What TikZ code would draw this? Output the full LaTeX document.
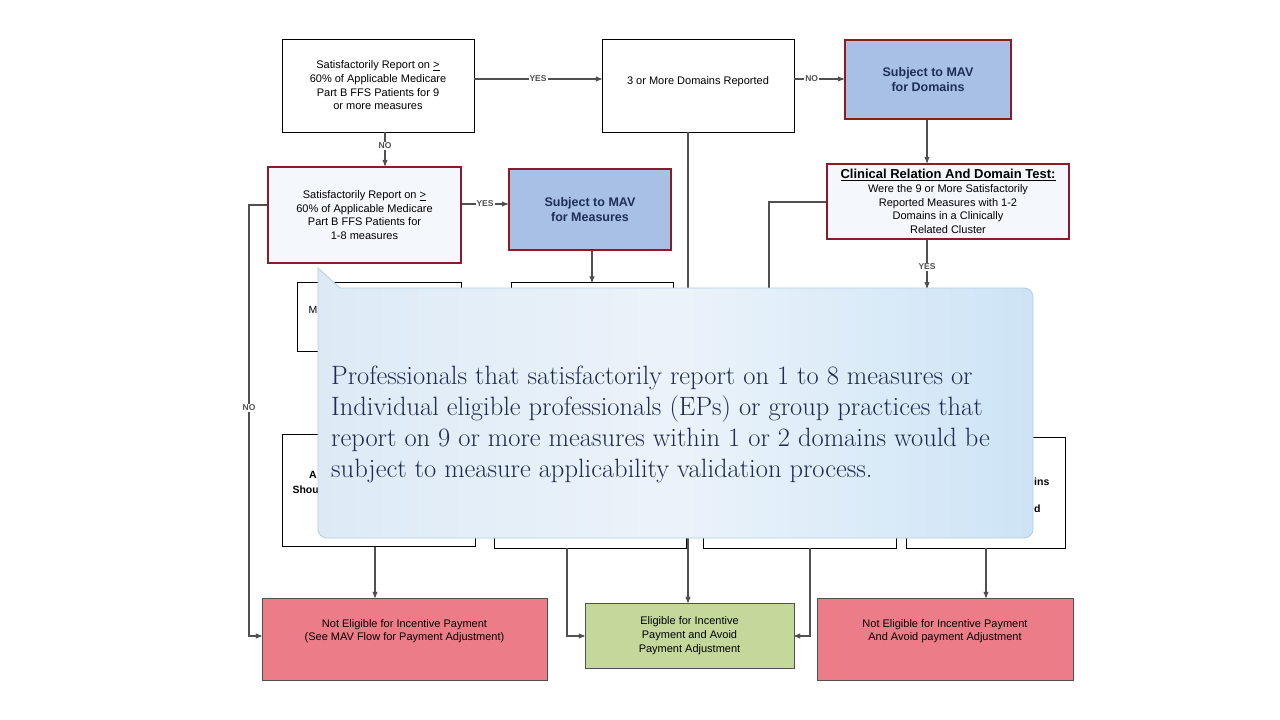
\documentclass[tikz,border=0pt]{standalone}
\usepackage{fontspec}
\setsansfont{Liberation Sans}
\usetikzlibrary{calc}
\usetikzlibrary{arrows}
\definecolor{boxred}{HTML}{8C1C24}
\definecolor{mavblue}{HTML}{A7C0E4}
\definecolor{paleblue}{HTML}{F4F8FC}
\definecolor{navy}{HTML}{1F2F55}
\definecolor{outpink}{HTML}{EC7D88}
\definecolor{outgreen}{HTML}{C4D89C}
\definecolor{linegray}{HTML}{505050}
\definecolor{calA}{HTML}{DDEAF6}
\definecolor{calM}{HTML}{EBF3FA}
\definecolor{calB}{HTML}{CDE4F6}
\definecolor{calline}{HTML}{B4CDE2}
\definecolor{caltext}{HTML}{1F2A50}
\tikzset{
  whitebox/.style={draw=black, fill=white, line width=.8pt, align=center, inner sep=0pt,
    font=\sffamily\fontsize{11}{13.7}\selectfont},
  redbox/.style={whitebox, draw=boxred, line width=2.6pt, fill=paleblue},
  mavbox/.style={redbox, fill=mavblue, text=navy, font=\sffamily\bfseries\fontsize{12.5}{15}\selectfont},
  outbox/.style={whitebox, draw=linegray, line width=.8pt},
  lbl/.style={fill=white, inner sep=1pt, text=linegray, font=\sffamily\bfseries\fontsize{8.5}{8.5}\selectfont},
  flow/.style={draw=linegray, line width=1.1pt},
  arr/.style={flow, -stealth'},
  frag/.style={inner sep=0pt, font=\sffamily\bfseries\fontsize{10.5}{10.5}\selectfont}
}
\begin{document}
\begin{tikzpicture}[x=1pt,y=-1pt]
\useasboundingbox[fill=white] (0,0) rectangle (1280,720);
% first and second tests
\node[whitebox, minimum width=192pt, minimum height=93pt] (sat9) at (378,85.5)
  {Satisfactorily Report on \underline{>}\\60\% of Applicable Medicare\\Part B FFS Patients for 9\\or more measures};
\node[whitebox, minimum width=192pt, minimum height=93pt] (dom3) at (698,85.5)
  {3 or More Domains Reported\\[-4pt]};
\node[mavbox, minimum width=166pt, minimum height=79pt] (mavdom) at (928,79.5) {Subject to MAV\\for Domains};
\node[redbox, minimum width=242pt, minimum height=75pt] (clin) at (948,201.5)
  {{\bfseries\fontsize{13}{13.5}\selectfont\underline{Clinical Relation And Domain Test:}}\\Were the 9 or More Satisfactorily\\Reported Measures with 1-2\\Domains in a Clinically\\Related Cluster};
\node[redbox, minimum width=193pt, minimum height=96pt] (sat18) at (364.5,215)
  {Satisfactorily Report on \underline{>}\\60\% of Applicable Medicare\\Part B FFS Patients for\\1-8 measures};
\node[mavbox, minimum width=162pt, minimum height=81pt] (mavmeas) at (590,209.5) {Subject to MAV\\for Measures};
% boxes under the note
\node[whitebox, minimum width=164pt, minimum height=69pt] (midl) at (379,317) {};
\node[frag, font=\sffamily\fontsize{10.5}{10.5}\selectfont] (fragm) at (313,310) {M};
\node[whitebox, minimum width=162pt, minimum height=69pt] (midm) at (592,317) {};
\node[whitebox, minimum width=193pt, minimum height=112pt] (lowa) at (378.5,490.5) {};
\node[frag] (fraga) at (313,475) {A};
\node[frag, anchor=east] (fragb) at (319,490) {Shou};
\node[whitebox, minimum width=192pt, minimum height=111pt] (lowb) at (590.5,492.5) {};
\node[whitebox, minimum width=193pt, minimum height=111pt] (lowc) at (799.5,492.5) {};
\node[whitebox, minimum width=159pt, minimum height=111pt] (lowd) at (985.5,492.5) {};
\node[frag, anchor=west] (fragc) at (1034,482) {ins};
\node[frag, anchor=west] (fragd) at (1034,509) {d};
% outcomes
\node[outbox, fill=outpink, minimum width=285pt, minimum height=82pt] (noinc) at (404.5,639)
  {Not Eligible for Incentive Payment\\(See MAV Flow for Payment Adjustment)\\[4pt]};
\node[outbox, fill=outgreen, minimum width=209pt, minimum height=65pt] (inc) at (689.5,635.5)
  {Eligible for Incentive\\Payment and Avoid\\Payment Adjustment};
\node[outbox, fill=outpink, minimum width=256pt, minimum height=82pt] (noadj) at (945,639)
  {Not Eligible for Incentive Payment\\And Avoid payment Adjustment\\[4pt]};
% connectors
\draw[arr] (sat9.east |- 0,79) -- (dom3.west |- 0,79) node[lbl, midway] {YES};
\draw[arr] (dom3.east |- 0,79) -- (mavdom.west |- 0,79) node[lbl, pos=.35] {NO};
\draw[arr] (sat9.south -| 385,0) -- (sat18.north -| 385,0) node[lbl, pos=.4] {NO};
\draw[arr] (sat18.east |- 0,204) -- (mavmeas.west |- 0,204) node[lbl, midway] {YES};
\draw[arr] (mavdom.south -| 927,0) -- (clin.north -| 927,0);
\coordinate (clinyes) at (927,288);
\draw[arr] (clin.south -| 927,0) -- (clinyes) node[lbl, pos=.55] {YES};
\draw[arr] (mavmeas.south -| 592,0) -- (midm.north -| 592,0);
\draw[flow] (clin.west |- 0,202) -| (lowc.north -| 769,0);
\draw[arr] (dom3.south -| 688,0) -- (inc.north -| 688,0);
\draw[flow, -stealth'] (sat18.west |- 0,205) -- (249,205) -- (249,636) node[lbl, pos=.47] {NO} -- (noinc.west |- 0,636);
\draw[arr] (lowa.south -| 375,0) -- (noinc.north -| 375,0);
\draw[arr] (lowb.south -| 567,0) |- (inc.west |- 0,636);
\draw[arr] (lowc.south -| 810,0) |- (inc.east |- 0,636);
\draw[arr] (lowd.south -| 986,0) -- (noadj.north -| 986,0);
% note
\path[draw=calline, line width=.8pt, left color=calA, right color=calB, middle color=calM]
  (318,268) [rounded corners=9pt] -- (318,538) -- (1033,538) -- (1033,288) [sharp corners] -- (340,288) -- cycle;
\node[anchor=west, align=left, text=caltext, inner sep=0pt, font=\rmfamily\fontsize{26.5}{31}\selectfont] (note) at (331,424)
  {Professionals that satisfactorily report on 1 to 8 measures or\\
   Individual eligible professionals (EPs) or group practices that\\
   report on 9 or more measures within 1 or 2 domains would be\\
   subject to measure applicability validation process.};
\end{tikzpicture}
\end{document}
